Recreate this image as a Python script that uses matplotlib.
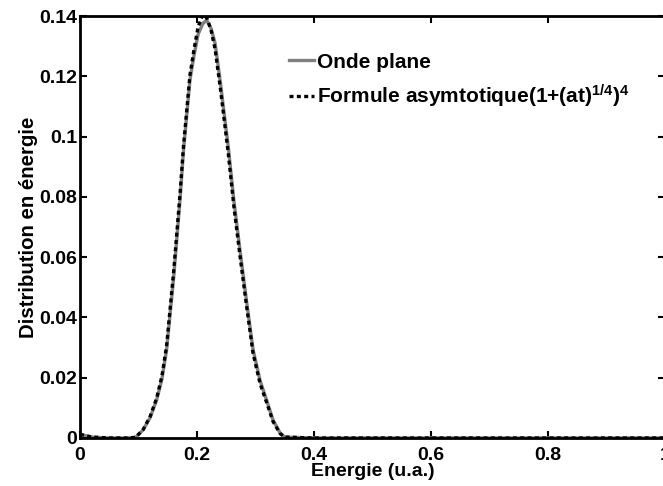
import matplotlib

matplotlib.use("Agg")
import matplotlib.pyplot as plt

# values
energy = [0.0, 0.02, 0.05, 0.08, 0.095, 0.108, 0.12, 0.131, 0.14, 0.148, 0.16,
          0.171, 0.177, 0.188, 0.195, 0.202, 0.21, 0.2165, 0.224, 0.231, 0.24,
          0.2535, 0.263, 0.2735, 0.285, 0.296, 0.308, 0.319, 0.33, 0.342, 0.35,
          0.4, 1.0]
onde_plane = [0.0012, 0.0003, 0.0, 0.0, 0.0002, 0.0027, 0.0068, 0.0126, 0.0195,
              0.0292, 0.053, 0.079, 0.0955, 0.1188, 0.127, 0.134, 0.1375, 0.1387,
              0.136, 0.131, 0.118, 0.0966, 0.079, 0.0624, 0.045, 0.0292, 0.019,
              0.0126, 0.006, 0.0017, 0.0003, 0.0, 0.0]
asymptotique = [0.0012, 0.0003, 0.0, 0.0, 0.0002, 0.0028, 0.0072, 0.0132, 0.0205,
                0.0305, 0.055, 0.081, 0.097, 0.1205, 0.129, 0.1365, 0.1405, 0.1395,
                0.1355, 0.129, 0.116, 0.0945, 0.077, 0.0605, 0.0435, 0.028, 0.018,
                0.0118, 0.0055, 0.0015, 0.0003, 0.0, 0.0]

xticks = [0, 0.2, 0.4, 0.6, 0.8, 1.0]
xtick_labels = ["0", "0.2", "0.4", "0.6", "0.8", "1"]
yticks = [0, 0.02, 0.04, 0.06, 0.08, 0.1, 0.12, 0.14]
ytick_labels = ["0", "0.02", "0.04", "0.06", "0.08", "0.1", "0.12", "0.14"]

plt.rcParams["font.family"] = ["Liberation Sans", "DejaVu Sans"]
plt.rcParams["font.weight"] = "bold"
plt.rcParams["mathtext.fontset"] = "custom"
plt.rcParams["mathtext.rm"] = "Liberation Sans:bold"
plt.rcParams["mathtext.bf"] = "Liberation Sans:bold"
plt.rcParams["mathtext.default"] = "rm"

fig = plt.figure(figsize=(6.63, 4.86), dpi=100)
ax = fig.add_axes([0.1207, 0.0988, 0.882, 0.868])

ax.plot(energy, onde_plane, color="#808080", linewidth=2.4, label="Onde plane")
ax.plot(energy, asymptotique, color="black", linewidth=2.4,
        linestyle=(0, (1.2, 1.0)),
        label=r"Formule asymtotique(1+(at)$^{1/4}$)$^{4}$")

ax.set_xlim(0, 1)
ax.set_ylim(0, 0.14)
ax.set_xticks(xticks)
ax.set_xticklabels(xtick_labels)
ax.set_yticks(yticks)
ax.set_yticklabels(ytick_labels)
ax.tick_params(direction="in", top=True, right=True, length=5, width=1.5,
               labelsize=14)
ax.tick_params(axis="x", pad=6.5)
ax.tick_params(axis="y", pad=2)
for spine in ax.spines.values():
    spine.set_linewidth(2)

ax.set_xlabel("Energie (u.a.)", fontsize=14, fontweight="bold", labelpad=-1)
ax.set_ylabel("Distribution en énergie", fontsize=14.7, fontweight="bold", labelpad=1)

ax.legend(loc="upper left", bbox_to_anchor=(0.325, 0.958), frameon=False,
          fontsize=15, handlelength=1.2, handletextpad=0.15, labelspacing=0.55)

fig.savefig("out.png", dpi=100)
